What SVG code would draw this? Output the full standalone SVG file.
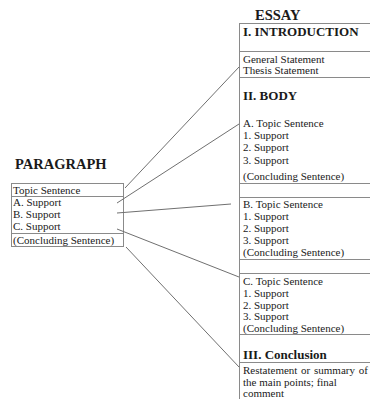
<svg xmlns="http://www.w3.org/2000/svg" width="370" height="399" viewBox="0 0 370 399">
<style>
.t{font-family:"Liberation Serif","Times New Roman",serif;font-size:11px;fill:#1a1a1a}
.h{font-family:"Liberation Serif","Times New Roman",serif;font-weight:bold;fill:#1a1a1a}
.b{stroke:#8a8a8a;stroke-width:1;fill:none}
.c{stroke:#707070;stroke-width:1;fill:none}
</style>
<rect width="370" height="399" fill="#fff"/>
<g id="paragraph">
<text class="h" x="15" y="169" font-size="14.5">PARAGRAPH</text>
<rect class="b" x="11.5" y="183.5" width="112" height="63"/>
<line class="b" x1="11.5" y1="196.5" x2="123.5" y2="196.5"/>
<line class="b" x1="11.5" y1="233.5" x2="123.5" y2="233.5"/>
<text class="t" x="13" y="194">Topic Sentence</text>
<text class="t" x="13" y="206">A. Support</text>
<text class="t" x="13" y="218">B. Support</text>
<text class="t" x="13" y="230">C. Support</text>
<text class="t" x="13" y="244">(Concluding Sentence)</text>
</g>
<g id="essay">
<text class="h" x="255" y="20" font-size="14.5">ESSAY</text>
<line class="b" x1="239.5" y1="23" x2="239.5" y2="399"/>
<line class="b" x1="239.5" y1="23.5" x2="370" y2="23.5"/>
<line class="b" x1="239.5" y1="51.5" x2="370" y2="51.5"/>
<line class="b" x1="239.5" y1="77.5" x2="370" y2="77.5"/>
<line class="b" x1="239.5" y1="183.5" x2="370" y2="183.5"/>
<line class="b" x1="239.5" y1="197.5" x2="370" y2="197.5"/>
<line class="b" x1="239.5" y1="259.5" x2="370" y2="259.5"/>
<line class="b" x1="239.5" y1="273.5" x2="370" y2="273.5"/>
<line class="b" x1="239.5" y1="334.5" x2="370" y2="334.5"/>
<line class="b" x1="239.5" y1="362.5" x2="370" y2="362.5"/>
</g>
<g id="introduction">
<text class="h" x="243" y="36" font-size="13">I. INTRODUCTION</text>
<text class="t" x="243" y="63" font-size="10.5">General Statement</text>
<text class="t" x="243" y="74" font-size="10.5">Thesis Statement</text>
</g>
<g id="body">
<text class="h" x="243" y="100" font-size="13">II. BODY</text>
<text class="t" x="243" y="127">A. Topic Sentence</text>
<text class="t" x="243" y="139">1. Support</text>
<text class="t" x="243" y="151">2. Support</text>
<text class="t" x="243" y="164">3. Support</text>
<text class="t" x="243" y="180">(Concluding Sentence)</text>
</g>
<g id="body-b">
<text class="t" x="243" y="208">B. Topic Sentence</text>
<text class="t" x="243" y="220">1. Support</text>
<text class="t" x="243" y="232">2. Support</text>
<text class="t" x="243" y="244">3. Support</text>
<text class="t" x="243" y="256">(Concluding Sentence)</text>
</g>
<g id="body-c">
<text class="t" x="243" y="285">C. Topic Sentence</text>
<text class="t" x="243" y="297">1. Support</text>
<text class="t" x="243" y="309">2. Support</text>
<text class="t" x="243" y="320">3. Support</text>
<text class="t" x="243" y="332">(Concluding Sentence)</text>
</g>
<g id="conclusion">
<text class="h" x="243" y="359" font-size="13">III. Conclusion</text>
<text class="t" x="243" y="374" word-spacing="1">Restatement or summary of</text>
<text class="t" x="243" y="386">the main points; final</text>
<text class="t" x="243" y="397">comment</text>
</g>
<g id="connectors">
<line class="c" x1="125" y1="188" x2="239" y2="67"/>
<line class="c" x1="117" y1="203" x2="239" y2="124"/>
<line class="c" x1="117" y1="213" x2="231" y2="204"/>
<line class="c" x1="117" y1="229" x2="239" y2="277"/>
<line class="c" x1="126" y1="247" x2="239" y2="367"/>
</g>
</svg>
